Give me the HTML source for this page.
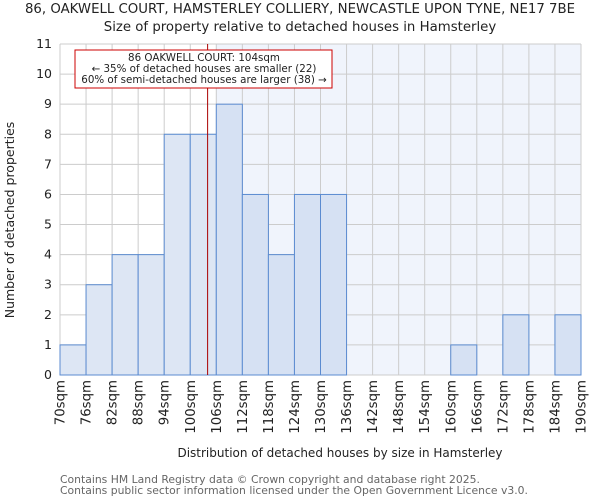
<!DOCTYPE html>
<html><head><meta charset="utf-8"><style>
body{margin:0;background:#fff;font-family:"DejaVu Sans","Liberation Sans",sans-serif}
</style></head><body>
<svg width="600" height="500" xmlns="http://www.w3.org/2000/svg" font-family="DejaVu Sans, Liberation Sans, sans-serif">
<text x="300" y="13" text-anchor="middle" font-size="13.3" fill="#222">86, OAKWELL COURT, HAMSTERLEY COLLIERY, NEWCASTLE UPON TYNE, NE17 7BE</text>
<text x="300" y="31" text-anchor="middle" font-size="13.3" fill="#222">Size of property relative to detached houses in Hamsterley</text>
<g id="plot"></g>
<text x="340" y="457" text-anchor="middle" font-size="12" fill="#222">Distribution of detached houses by size in Hamsterley</text>
<text transform="translate(14,220) rotate(-90)" text-anchor="middle" font-size="12.5" fill="#222">Number of detached properties</text>
<text x="60" y="483" font-size="10.8" fill="#666">Contains HM Land Registry data © Crown copyright and database right 2025.</text>
<text x="60" y="494" font-size="10.8" fill="#666">Contains public sector information licensed under the Open Government Licence v3.0.</text>
</svg>
<script>
const binStarts=[70,76,82,88,94,100,106,112,118,124,130,136,142,148,154,160,166,172,178,184];
const counts=[1,3,4,4,8,8,9,6,4,6,6,0,0,0,0,1,0,2,0,2];
const tickLabels=["70sqm","76sqm","82sqm","88sqm","94sqm","100sqm","106sqm","112sqm","118sqm","124sqm","130sqm","136sqm","142sqm","148sqm","154sqm","160sqm","166sqm","172sqm","178sqm","184sqm","190sqm"];
const yTicks=[0,1,2,3,4,5,6,7,8,9,10,11];
const propertySize=104;
const NS="http://www.w3.org/2000/svg";
const X0=60,X1=581,Y0=375,Y1=44,xmin=70,xmax=190,ymax=11;
const sx=v=>X0+(v-xmin)/(xmax-xmin)*(X1-X0);
const sy=v=>Y0-v/ymax*(Y0-Y1);
const g=document.getElementById('plot');
function mk(t,a){const e=document.createElementNS(NS,t);for(const k in a)e.setAttribute(k,a[k]);g.appendChild(e);return e;}
const shadeStart=106;
let e=mk('rect',{x:sx(shadeStart),y:Y1,width:X1-sx(shadeStart),height:Y0-Y1,fill:'#f0f4fc'});


yTicks.forEach(t=>{let l=mk('line',{x1:X0,x2:X1,y1:sy(t),y2:sy(t),stroke:'#cccccc'});


let tx=mk('text',{x:X0-8,y:sy(t)+4,'text-anchor':'end','font-size':'12.5',fill:'#222'});tx.textContent=t;

});
tickLabels.forEach((lab,i)=>{const v=xmin+i*6;let l=mk('line',{x1:sx(v),x2:sx(v),y1:Y1,y2:Y0,stroke:'#cccccc'});


let tx=mk('text',{transform:`translate(${sx(v)+4.5},380) rotate(-90)`,'text-anchor':'end','font-size':'13.3',fill:'#222'});tx.textContent=lab;

});
binStarts.forEach((b,i)=>{if(!counts[i])return;const r=mk('rect',{x:sx(b),y:sy(counts[i]),width:sx(b+6)-sx(b),height:Y0-sy(counts[i]),fill:b<shadeStart?'#dde6f4':'#d6e1f3',stroke:'#5b8bd0','stroke-width':1});

});
e=mk('line',{x1:sx(propertySize),x2:sx(propertySize),y1:Y1,y2:Y0,stroke:'#aa0000','stroke-width':1});


e=mk('rect',{x:75,y:50,width:257,height:38,fill:'#fff',stroke:'#cc0000'});


["86 OAKWELL COURT: 104sqm","← 35% of detached houses are smaller (22)","60% of semi-detached houses are larger (38) →"].forEach((s,i)=>{const t=mk('text',{x:204,y:61+i*11,'text-anchor':'middle','font-size':'10.3',fill:'#222'});t.textContent=s;

});
</script>
</body></html>
